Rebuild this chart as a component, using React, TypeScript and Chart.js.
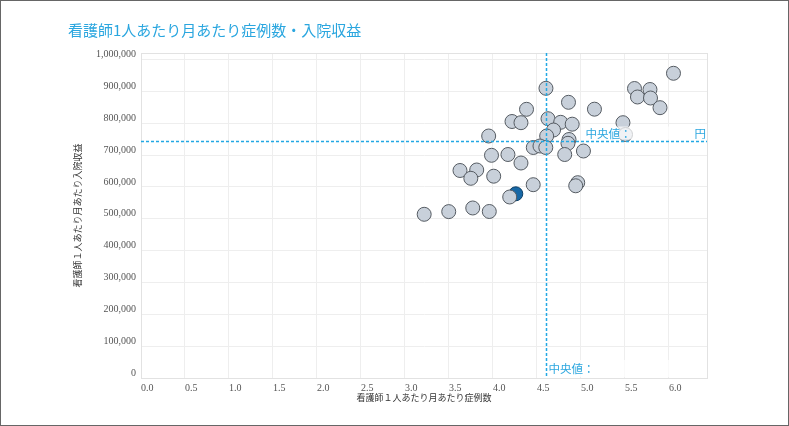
import React, { useEffect, useRef } from "react";
import { Chart, registerables } from "chart.js";

Chart.register(...registerables);

const chartTitle = "看護師1人あたり月あたり症例数・入院収益";
const xAxisTitle = "看護師１人あたり月あたり症例数";
const yAxisTitle = "看護師１人あたり月あたり入院収益";
const medianLabel = "中央値：";
const yenUnit = "円";

const xTicks = [0, 0.5, 1, 1.5, 2, 2.5, 3, 3.5, 4, 4.5, 5, 5.5, 6];
const yTicks = [0, 100000, 200000, 300000, 400000, 500000, 600000, 700000, 800000, 900000, 1000000];
const xMax = 6.432;
const yMax = 1020400;

const medianX = 4.602;
const medianY = 744100;

// hospitals (cases per nurse per month, inpatient revenue per nurse per month)
const caseValues = [
  6.051, 5.608, 5.642, 5.784, 5.79, 5.898, 4.602, 4.858, 5.153, 4.381,
  4.216, 4.318, 4.625, 4.769, 4.9, 5.477, 4.688, 4.61, 3.951, 5.506,
  4.864, 4.852, 4.458, 4.534, 4.6, 5.028, 4.815, 3.983, 4.17, 4.318,
  3.625, 3.815, 3.748, 4.008, 4.457, 4.963, 4.94, 4.19, 3.218, 3.497,
  3.77, 3.958,
];
const revenueValues = [
  956700, 908900, 882300, 905800, 879100, 848700, 909600, 865600, 844000, 843600,
  805300, 801600, 814100, 802800, 796900, 801600, 778600, 759800, 759800, 764500,
  748800, 736900, 723700, 728400, 723700, 712700, 701700, 699200, 701700, 675000,
  651500, 653100, 627000, 633600, 606900, 613200, 603500, 568300, 514000, 522400,
  533800, 522800,
];
// highlighted hospital
const ownCase = [4.259];
const ownRevenue = [578300];

const CJK = "'Noto Sans CJK JP', 'Noto Sans', sans-serif";
const BLUE_TEXT = "#2aa6df";

export default function App() {
  const ref = useRef<HTMLCanvasElement | null>(null);

  useEffect(() => {
    if (!ref.current) return;

    const framePlugin = {
      id: "frame",
      beforeDatasetsDraw(chart: any) {
        const { ctx, chartArea } = chart;
        ctx.save();
        ctx.strokeStyle = "#e2e2e2";
        ctx.lineWidth = 1;
        ctx.strokeRect(
          Math.round(chartArea.left) + 0.5,
          Math.round(chartArea.top) + 0.5,
          Math.round(chartArea.right - chartArea.left),
          Math.round(chartArea.bottom - chartArea.top)
        );
        ctx.restore();
      },
      afterDraw(chart: any) {
        const { ctx } = chart;
        ctx.save();
        ctx.strokeStyle = "#666666";
        ctx.lineWidth = 1;
        ctx.strokeRect(0.5, 0.5, chart.width - 1, chart.height - 1);
        ctx.restore();
      },
    };

    const medianPlugin = {
      id: "median",
      afterDatasetsDraw(chart: any) {
        const { ctx, chartArea, scales } = chart;
        const mx = Math.round(scales.x.getPixelForValue(medianX)) + 0.5;
        const my = Math.round(scales.y.getPixelForValue(medianY)) + 0.5;
        ctx.save();
        ctx.strokeStyle = "#22a8e4";
        ctx.lineWidth = 1.5;
        ctx.setLineDash([3, 2]);
        ctx.beginPath();
        ctx.moveTo(mx, chartArea.top);
        ctx.lineTo(mx, chartArea.bottom);
        ctx.moveTo(chartArea.left, my);
        ctx.lineTo(chartArea.right, my);
        ctx.stroke();
        ctx.setLineDash([]);

        // label backgrounds
        ctx.fillStyle = "rgba(255,255,255,0.72)";
        const hx = mx + 37;
        ctx.fillRect(hx, my - 15, chartArea.right - 1 - hx, 13);
        ctx.fillRect(mx + 1.5, chartArea.bottom - 18, 152, 17);

        ctx.fillStyle = BLUE_TEXT;
        ctx.font = "11.5px " + CJK;
        ctx.textBaseline = "middle";
        ctx.textAlign = "left";
        ctx.fillText(medianLabel, mx + 39, my - 8);
        ctx.textAlign = "right";
        ctx.fillText(yenUnit, chartArea.right - 1, my - 8);
        ctx.textAlign = "left";
        ctx.fillText(medianLabel, mx + 2, chartArea.bottom - 9);
        ctx.restore();
      },
    };

    const chart = new Chart(ref.current, {
      type: "scatter",
      data: {
        datasets: [
          {
            data: caseValues.map((x, i) => ({ x, y: revenueValues[i] })),
            backgroundColor: "#c8d0da",
            borderColor: "#555b62",
            borderWidth: 1,
            pointRadius: 7,
            pointHoverRadius: 7,
          },
          {
            data: ownCase.map((x, i) => ({ x, y: ownRevenue[i] })),
            backgroundColor: "#1768a6",
            borderColor: "#0d3f66",
            borderWidth: 1,
            pointRadius: 7,
            pointHoverRadius: 7,
          },
        ],
      },
      options: {
        animation: false,
        responsive: false,
        devicePixelRatio: 1,
        layout: { padding: { left: 72, right: 82, top: 53, bottom: 23 } },
        plugins: {
          legend: { display: false },
          tooltip: { enabled: false },
          title: { display: false },
        },
        scales: {
          x: {
            type: "linear",
            min: 0,
            max: xMax,
            afterBuildTicks: (scale: any) => {
              scale.ticks = xTicks.map((v) => ({ value: v }));
            },
            afterFit: (scale: any) => {
              scale.height = 25;
            },
            grid: { color: "#eeeeee", drawTicks: false },
            border: { color: "#e2e2e2" },
            ticks: {
              align: "start",
              padding: 4,
              color: "#555555",
              font: { family: "'Liberation Serif', serif", size: 10 },
              callback: (v: any) => Number(v).toFixed(1),
            },
            title: {
              display: true,
              text: xAxisTitle,
              color: "#333333",
              font: { family: CJK, size: 9 },
              padding: 0,
            },
          },
          y: {
            type: "linear",
            min: 0,
            max: yMax,
            afterBuildTicks: (scale: any) => {
              scale.ticks = yTicks.map((v) => ({ value: v }));
            },
            afterFit: (scale: any) => {
              scale.width = 69;
            },
            grid: { color: "#eeeeee", drawTicks: false },
            border: { color: "#e2e2e2" },
            ticks: {
              align: "end",
              padding: 5,
              color: "#555555",
              font: { family: "'Liberation Serif', serif", size: 10 },
              callback: (v: any) => Number(v).toLocaleString("en-US"),
            },
            title: {
              display: true,
              text: yAxisTitle,
              color: "#333333",
              font: { family: CJK, size: 9 },
              padding: 0,
            },
          },
        },
      },
      plugins: [framePlugin, medianPlugin],
    } as any);

    return () => chart.destroy();
  }, []);

  return (
    <div
      style={{
        position: "absolute",
        left: 0,
        top: 0,
        width: 789,
        height: 426,
        background: "#ffffff",
        overflow: "hidden",
      }}
    >
      <canvas ref={ref} width={789} height={426} style={{ position: "absolute", left: 0, top: 0 }} />
      <div
        style={{
          position: "absolute",
          left: 68,
          top: 21,
          fontFamily: CJK,
          fontSize: 15,
          lineHeight: "17px",
          color: "#2aa6df",
          whiteSpace: "nowrap",
        }}
      >
        {chartTitle}
      </div>
    </div>
  );
}
